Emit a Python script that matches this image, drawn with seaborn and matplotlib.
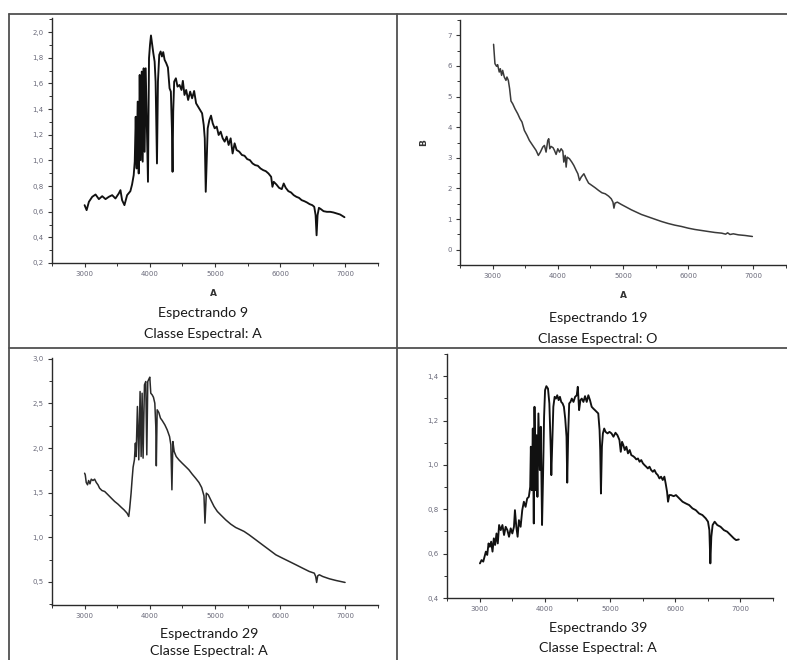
import numpy as np
import matplotlib
matplotlib.use("Agg")
import matplotlib.pyplot as plt
from matplotlib.lines import Line2D
from matplotlib.ticker import FixedLocator, MultipleLocator, FuncFormatter
import seaborn as sns

# ---------------- spectra (wavelength in Angstrom, flux) ----------------
wl9 = [3000, 3031, 3066, 3117, 3168, 3219, 3270, 3321, 3372, 3423, 3473, 3524, 3550, 3575,
       3611, 3652, 3702, 3728, 3753, 3769, 3784, 3799, 3814, 3830, 3845, 3860, 3876, 3891,
       3906, 3921, 3937, 3952, 3972, 3988, 4003, 4018, 4033, 4054, 4074, 4089, 4110, 4125,
       4145, 4166, 4186, 4206, 4227, 4252, 4278, 4303, 4323, 4339, 4349, 4359, 4374, 4400,
       4425, 4456, 4486, 4507, 4532, 4558, 4588, 4619, 4649, 4680, 4710, 4741, 4771, 4802,
       4827, 4843, 4858, 4873, 4888, 4914, 4939, 4965, 4995, 5026, 5056, 5087, 5118, 5148,
       5179, 5209, 5240, 5270, 5301, 5331, 5372, 5413, 5453, 5494, 5535, 5576, 5616, 5657,
       5698, 5739, 5779, 5820, 5861, 5881, 5901, 5942, 5983, 6024, 6054, 6085, 6125, 6166,
       6207, 6248, 6288, 6329, 6370, 6410, 6451, 6492, 6522, 6543, 6558, 6573, 6594, 6624,
       6665, 6716, 6767, 6817, 6868, 6919, 6986]
flux9 = [0.651, 0.612, 0.677, 0.716, 0.734, 0.698, 0.721, 0.698, 0.716, 0.729, 0.703, 0.742,
         0.768, 0.690, 0.651, 0.729, 0.760, 0.812, 0.885, 0.990, 1.340, 0.937, 1.458, 0.898,
         1.666, 1.002, 1.692, 0.990, 1.718, 1.067, 1.718, 1.354, 0.833, 1.797, 1.901, 1.974,
         1.914, 1.836, 1.770, 1.614, 0.976, 1.614, 1.823, 1.849, 1.810, 1.844, 1.784, 1.758,
         1.724, 1.562, 1.536, 1.250, 0.911, 1.380, 1.614, 1.640, 1.575, 1.588, 1.549, 1.620,
         1.510, 1.549, 1.471, 1.536, 1.484, 1.541, 1.445, 1.419, 1.393, 1.367, 1.276, 1.172,
         0.755, 0.990, 1.250, 1.315, 1.349, 1.289, 1.250, 1.263, 1.198, 1.224, 1.172, 1.146,
         1.185, 1.120, 1.172, 1.054, 1.133, 1.081, 1.068, 1.042, 1.036, 1.010, 1.002, 0.976,
         0.963, 0.958, 0.937, 0.924, 0.916, 0.898, 0.872, 0.794, 0.833, 0.812, 0.786, 0.776,
         0.820, 0.786, 0.760, 0.750, 0.729, 0.716, 0.708, 0.690, 0.682, 0.672, 0.659, 0.651,
         0.638, 0.573, 0.416, 0.573, 0.630, 0.620, 0.604, 0.599, 0.599, 0.594, 0.586, 0.578,
         0.557]

wl19 = [3015, 3036, 3061, 3077, 3102, 3118, 3138, 3154, 3179, 3205, 3220, 3241, 3261, 3282,
        3308, 3343, 3385, 3420, 3451, 3487, 3528, 3564, 3615, 3667, 3702, 3733, 3769, 3795,
        3820, 3846, 3861, 3877, 3897, 3928, 3949, 3974, 4000, 4026, 4051, 4077, 4092, 4113,
        4128, 4143, 4179, 4215, 4246, 4282, 4308, 4333, 4359, 4400, 4436, 4472, 4523, 4574,
        4626, 4677, 4728, 4779, 4820, 4846, 4861, 4877, 4913, 4974, 5051, 5128, 5205, 5282,
        5384, 5487, 5590, 5692, 5795, 5897, 6000, 6102, 6205, 6307, 6410, 6513, 6574, 6605,
        6641, 6692, 6769, 6872, 6984]
flux19 = [6.706, 6.074, 5.987, 6.041, 5.801, 5.910, 5.692, 5.856, 5.638, 5.529, 5.638, 5.529,
          5.257, 4.854, 4.766, 4.603, 4.440, 4.276, 4.167, 3.895, 3.732, 3.568, 3.405, 3.241,
          3.078, 3.187, 3.350, 3.405, 3.187, 3.568, 3.623, 3.296, 3.372, 3.329, 3.241, 3.111,
          3.296, 3.187, 3.296, 3.220, 2.860, 3.078, 2.697, 3.024, 2.969, 2.860, 2.751, 2.588,
          2.479, 2.261, 2.370, 2.479, 2.316, 2.174, 2.098, 2.021, 1.934, 1.858, 1.825, 1.749,
          1.662, 1.553, 1.357, 1.520, 1.553, 1.477, 1.390, 1.302, 1.226, 1.150, 1.074, 0.997,
          0.921, 0.856, 0.801, 0.758, 0.703, 0.660, 0.627, 0.594, 0.562, 0.540, 0.507, 0.551,
          0.496, 0.518, 0.485, 0.464, 0.431]

wl29 = [3000, 3010, 3025, 3045, 3062, 3082, 3102, 3128, 3154, 3179, 3205, 3230, 3266, 3308,
        3359, 3410, 3461, 3512, 3564, 3605, 3651, 3677, 3692, 3713, 3728, 3744, 3764, 3779,
        3790, 3810, 3831, 3851, 3867, 3882, 3897, 3918, 3938, 3954, 3969, 3985, 4000, 4015,
        4036, 4056, 4077, 4092, 4100, 4113, 4138, 4164, 4190, 4231, 4267, 4303, 4323, 4339,
        4354, 4374, 4405, 4446, 4497, 4549, 4600, 4651, 4703, 4754, 4795, 4831, 4846, 4867,
        4897, 4934, 4985, 5036, 5087, 5164, 5241, 5318, 5395, 5446, 5523, 5626, 5728, 5831,
        5933, 6036, 6139, 6241, 6344, 6446, 6523, 6544, 6559, 6575, 6600, 6651, 6754, 6856,
        6995]
flux29 = [1.718, 1.700, 1.614, 1.588, 1.636, 1.599, 1.651, 1.636, 1.651, 1.614, 1.588, 1.550,
          1.524, 1.513, 1.476, 1.438, 1.401, 1.371, 1.334, 1.307, 1.270, 1.233, 1.326, 1.494,
          1.644, 1.786, 1.868, 2.055, 1.905, 2.466, 1.868, 2.634, 1.905, 2.615, 1.887, 2.709,
          2.746, 1.924, 2.746, 2.772, 2.795, 2.615, 2.597, 2.570, 2.503, 2.242, 1.801, 2.429,
          2.399, 2.335, 2.309, 2.260, 2.204, 2.129, 2.036, 1.532, 2.073, 1.961, 1.905, 1.868,
          1.830, 1.793, 1.756, 1.707, 1.662, 1.614, 1.558, 1.464, 1.158, 1.494, 1.476, 1.420,
          1.345, 1.289, 1.251, 1.195, 1.147, 1.109, 1.083, 1.065, 1.027, 0.971, 0.915, 0.859,
          0.803, 0.765, 0.728, 0.691, 0.653, 0.616, 0.597, 0.560, 0.493, 0.567, 0.579, 0.560,
          0.534, 0.515, 0.493]

wl39 = [3005, 3030, 3056, 3076, 3096, 3117, 3137, 3157, 3177, 3198, 3218, 3238, 3259, 3279,
        3299, 3324, 3350, 3375, 3400, 3426, 3451, 3477, 3502, 3527, 3542, 3563, 3583, 3603,
        3629, 3654, 3679, 3705, 3730, 3755, 3776, 3786, 3801, 3816, 3831, 3842, 3857, 3872,
        3887, 3902, 3923, 3938, 3958, 3973, 3989, 4004, 4024, 4049, 4070, 4090, 4100, 4110,
        4131, 4151, 4171, 4191, 4212, 4232, 4252, 4273, 4293, 4313, 4333, 4344, 4359, 4374,
        4394, 4414, 4440, 4465, 4490, 4506, 4526, 4546, 4567, 4592, 4617, 4643, 4668, 4693,
        4719, 4744, 4769, 4795, 4820, 4840, 4850, 4861, 4876, 4891, 4911, 4932, 4962, 4992,
        5023, 5053, 5084, 5114, 5145, 5165, 5185, 5205, 5226, 5251, 5276, 5302, 5327, 5352,
        5378, 5403, 5429, 5454, 5479, 5505, 5530, 5555, 5581, 5606, 5631, 5657, 5682, 5707,
        5733, 5758, 5783, 5809, 5834, 5854, 5875, 5890, 5910, 5936, 5976, 6012, 6062, 6113,
        6164, 6214, 6265, 6316, 6366, 6417, 6468, 6503, 6524, 6539, 6554, 6574, 6605, 6645,
        6696, 6747, 6797, 6848, 6899, 6934, 6975]
flux39 = [0.556, 0.571, 0.564, 0.586, 0.609, 0.594, 0.646, 0.631, 0.654, 0.609, 0.669, 0.639,
          0.691, 0.646, 0.729, 0.706, 0.729, 0.684, 0.721, 0.706, 0.676, 0.714, 0.691, 0.721,
          0.796, 0.721, 0.676, 0.751, 0.721, 0.796, 0.834, 0.811, 0.849, 0.856, 0.901, 1.082,
          0.886, 1.164, 0.736, 1.262, 0.886, 1.134, 0.856, 1.232, 0.977, 1.172, 0.729, 0.947,
          1.217, 1.337, 1.355, 1.344, 1.277, 1.082, 0.954, 1.052, 1.262, 1.307, 1.299, 1.314,
          1.292, 1.307, 1.284, 1.277, 1.262, 1.209, 1.127, 0.920, 1.142, 1.277, 1.284, 1.299,
          1.284, 1.307, 1.314, 1.352, 1.247, 1.292, 1.299, 1.284, 1.310, 1.284, 1.314, 1.292,
          1.262, 1.254, 1.247, 1.239, 1.232, 1.157, 1.067, 0.871, 1.082, 1.142, 1.164, 1.149,
          1.142, 1.149, 1.142, 1.127, 1.145, 1.134, 1.112, 1.059, 1.104, 1.089, 1.067, 1.082,
          1.052, 1.067, 1.044, 1.040, 1.034, 1.025, 1.029, 1.014, 1.022, 1.007, 0.999, 0.992,
          0.984, 0.992, 0.977, 0.969, 0.977, 0.962, 0.954, 0.939, 0.947, 0.932, 0.947, 0.916,
          0.879, 0.834, 0.864, 0.864, 0.859, 0.864, 0.849, 0.834, 0.826, 0.819, 0.804, 0.796,
          0.781, 0.774, 0.759, 0.744, 0.706, 0.556, 0.676, 0.729, 0.744, 0.729, 0.721, 0.706,
          0.699, 0.684, 0.669, 0.661, 0.664]

# ---------------- axis settings ----------------
x_ticks = [3000, 4000, 5000, 6000, 7000]
y_ticks9 = [0.2, 0.4, 0.6, 0.8, 1.0, 1.2, 1.4, 1.6, 1.8, 2.0]
y_ticks19 = [0, 1, 2, 3, 4, 5, 6, 7]
y_ticks29 = [0.5, 1.0, 1.5, 2.0, 2.5, 3.0]
y_ticks39 = [0.4, 0.6, 0.8, 1.0, 1.2, 1.4]

captions = [("Espectrando 9", "Classe Espectral: A"),
            ("Espectrando 19", "Classe Espectral: O"),
            ("Espectrando 29", "Classe Espectral: A"),
            ("Espectrando 39", "Classe Espectral: A")]

sns.set_theme(style="ticks")
plt.rcParams["font.family"] = ["DejaVu Sans"]

W, H = 787, 660
fig = plt.figure(figsize=(W / 100, H / 100), dpi=100)
fig.patch.set_facecolor("white")


def px_rect(left, top, right, bottom):
    return [left / W, 1 - bottom / H, (right - left) / W, (bottom - top) / H]


def comma(v, _pos):
    return f"{v:.1f}".replace(".", ",")


panels = [
    dict(rect=px_rect(52, 18, 378, 263), wl=wl9, fl=flux9, yt=y_ticks9, ylim=(0.2, 2.11),
         minor=0.1, fmt=comma, lw=1.35, col="#111111"),
    dict(rect=px_rect(460, 20, 786, 265), wl=wl19, fl=flux19, yt=y_ticks19, ylim=(-0.5, 7.5),
         minor=0.5, fmt=lambda v, p: f"{v:.0f}", lw=1.1, col="#3a3a3a"),
    dict(rect=px_rect(52, 358, 378, 605), wl=wl29, fl=flux29, yt=y_ticks29, ylim=(0.24, 3.01),
         minor=0.25, fmt=comma, lw=1.1, col="#2a2a2a"),
    dict(rect=px_rect(447, 354, 773, 598), wl=wl39, fl=flux39, yt=y_ticks39, ylim=(0.4, 1.5),
         minor=0.1, fmt=comma, lw=1.35, col="#111111"),
]

tick_color = "#6a6a7a"
axes = []
for p in panels:
    ax = fig.add_axes(p["rect"])
    sns.lineplot(x=p["wl"], y=p["fl"], ax=ax, sort=False, estimator=None,
                 color=p["col"], linewidth=p["lw"])
    ax.set_xlim(2500, 7500)
    ax.set_ylim(*p["ylim"])
    ax.xaxis.set_major_locator(FixedLocator(x_ticks))
    ax.xaxis.set_minor_locator(MultipleLocator(500))
    ax.yaxis.set_major_locator(FixedLocator(p["yt"]))
    ax.yaxis.set_minor_locator(MultipleLocator(p["minor"]))
    ax.yaxis.set_major_formatter(FuncFormatter(p["fmt"]))
    ax.tick_params(which="major", direction="out", length=3, width=0.8, color="#333333",
                   labelsize=5, labelcolor=tick_color, pad=3)
    ax.tick_params(which="minor", direction="out", length=2, width=0.7, color="#333333")
    for s in ("top", "right"):
        ax.spines[s].set_visible(False)
    for s in ("left", "bottom"):
        ax.spines[s].set_linewidth(1.0)
        ax.spines[s].set_color("#2a2a2a")
    ax.set_facecolor("white")
    ax.set_xlabel("")
    ax.set_ylabel("")
    axes.append(ax)

# axis titles
fig.text(213 / W, 1 - 293 / H, "A", ha="center", va="center", fontsize=6.5,
         fontweight="bold", color="#333333")
fig.text(623 / W, 1 - 295 / H, "A", ha="center", va="center", fontsize=6.5,
         fontweight="bold", color="#333333")
fig.text(424 / W, 1 - 143 / H, "B", ha="center", va="center", fontsize=6.5,
         fontweight="bold", color="#333333", rotation=90)

# captions under each spectrum
cap_pos = [(203, 313, 334), (598, 318, 339), (209, 634, 651), (598, 628, 648)]
for (line1, line2), (cx, y1, y2) in zip(captions, cap_pos):
    fig.text(cx / W, 1 - y1 / H, line1, ha="center", va="center", fontsize=10.3,
             family="Lato", color="#1a1a1a")
    fig.text(cx / W, 1 - y2 / H, line2, ha="center", va="center", fontsize=10.3,
             family="Lato", color="#1a1a1a")

# table grid lines
grid_kw = dict(transform=fig.transFigure, color="#505050", linewidth=1.3)
fig.add_artist(Line2D([9 / W, 1.0], [1 - 14 / H, 1 - 14 / H], **grid_kw))
fig.add_artist(Line2D([9 / W, 1.0], [1 - 348 / H, 1 - 348 / H], **grid_kw))
fig.add_artist(Line2D([9 / W, 9 / W], [0, 1 - 14 / H], **grid_kw))
fig.add_artist(Line2D([396.5 / W, 396.5 / W], [0, 1 - 14 / H], **grid_kw))

fig.savefig("out.png", dpi=100, facecolor="white")
